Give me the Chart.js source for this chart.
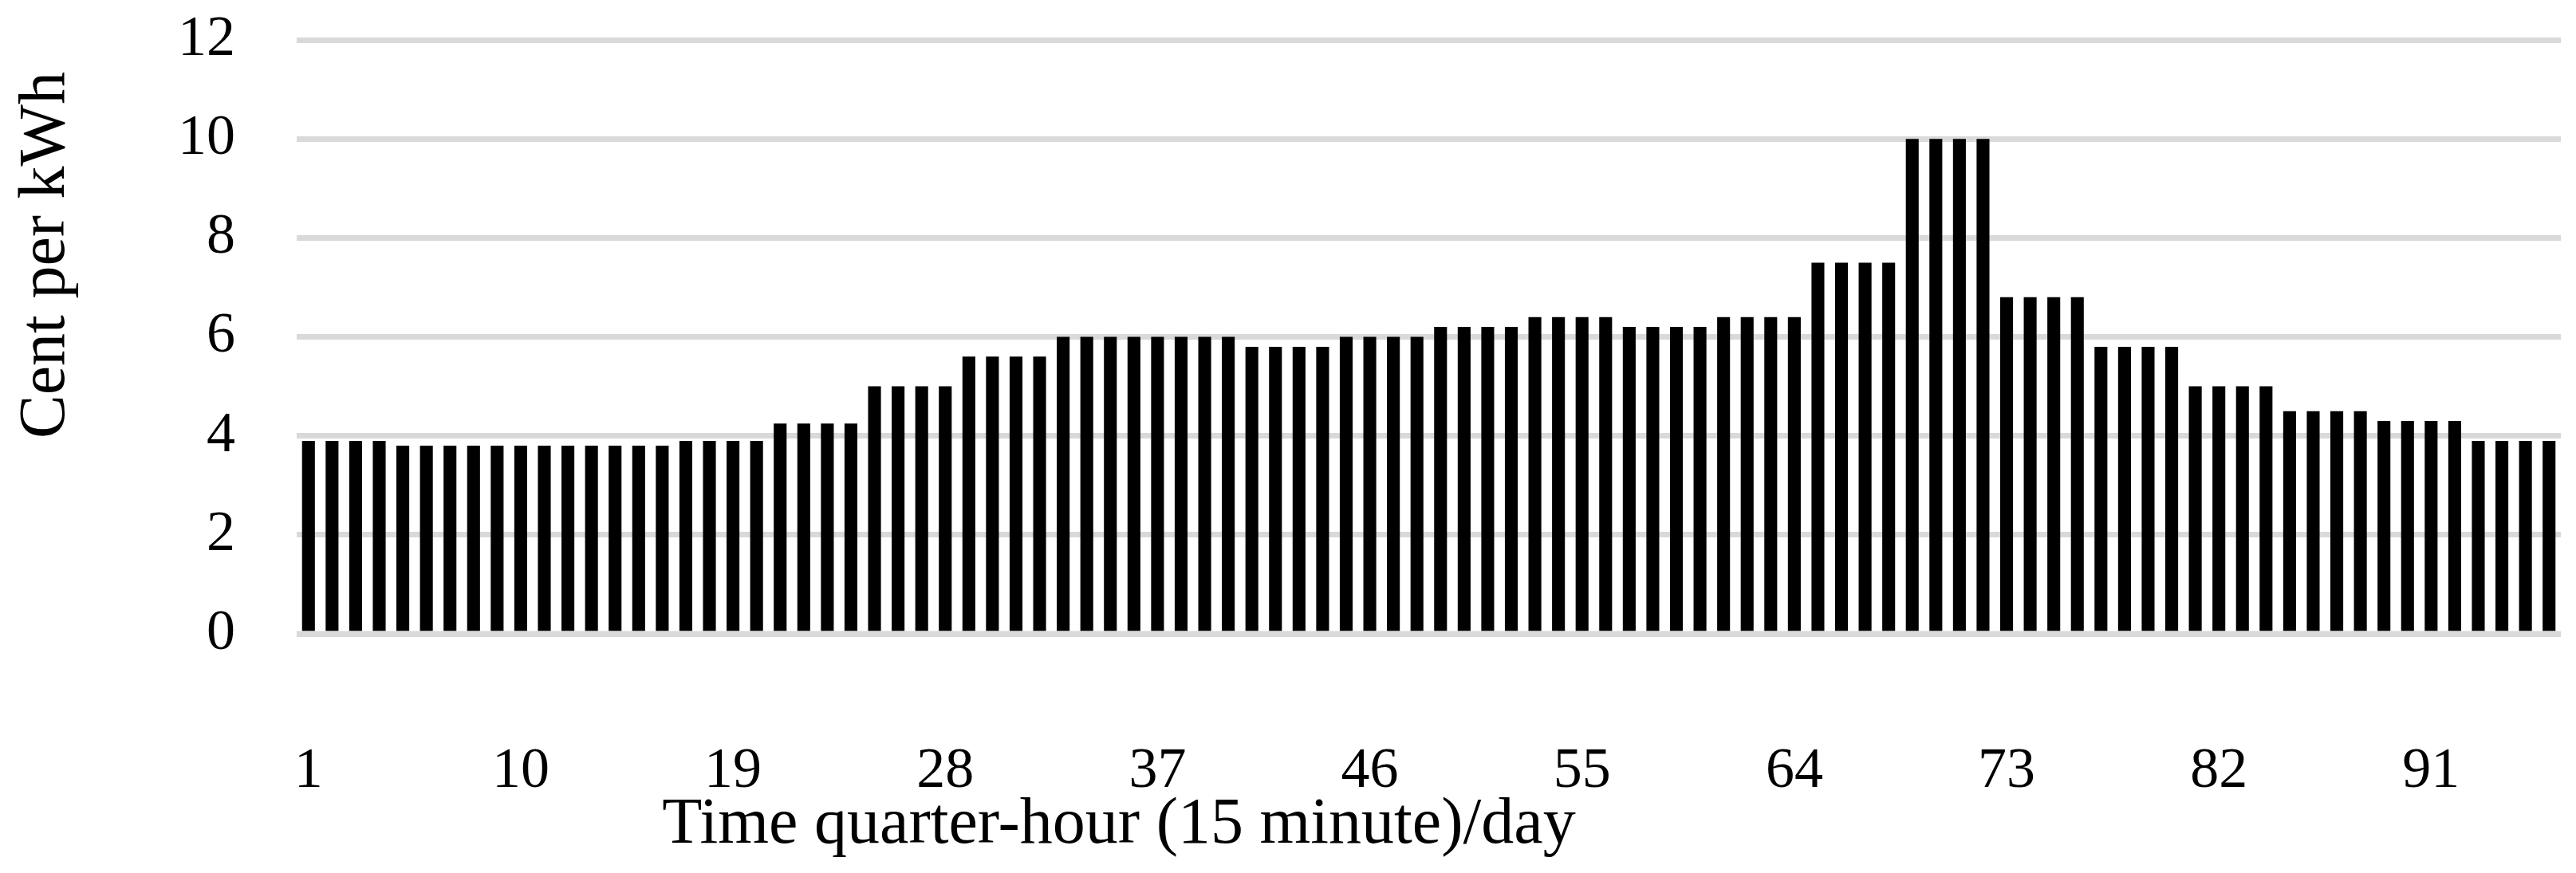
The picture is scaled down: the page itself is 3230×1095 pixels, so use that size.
<!DOCTYPE html>
<html>
<head>
<meta charset="utf-8">
<script src="https://cdn.jsdelivr.net/npm/chart.js@4.4.0/dist/chart.umd.min.js"></script>
<style>
html,body{margin:0;padding:0;background:#ffffff;}
canvas{display:block;}
</style>
</head>
<body>
<canvas id="c" width="3230" height="1095"></canvas>
<script>
// Categories: quarter-hour index of the day
const quarterHours = [
  1,2,3,4,5,6,7,8,9,10,11,12,13,14,15,16,17,18,19,20,21,22,23,24,
  25,26,27,28,29,30,31,32,33,34,35,36,37,38,39,40,41,42,43,44,45,46,47,48,
  49,50,51,52,53,54,55,56,57,58,59,60,61,62,63,64,65,66,67,68,69,70,71,72,
  73,74,75,76,77,78,79,80,81,82,83,84,85,86,87,88,89,90,91,92,93,94,95,96
];

// Price (cent per kWh) for each quarter-hour
const centPerKWh = [
  3.9,3.9,3.9,3.9,    3.8,3.8,3.8,3.8,    3.8,3.8,3.8,3.8,    3.8,3.8,3.8,3.8,
  3.9,3.9,3.9,3.9,    4.25,4.25,4.25,4.25, 5.0,5.0,5.0,5.0,   5.6,5.6,5.6,5.6,
  6.0,6.0,6.0,6.0,    6.0,6.0,6.0,6.0,    5.8,5.8,5.8,5.8,    6.0,6.0,6.0,6.0,
  6.2,6.2,6.2,6.2,    6.4,6.4,6.4,6.4,    6.2,6.2,6.2,6.2,    6.4,6.4,6.4,6.4,
  7.5,7.5,7.5,7.5,    10.0,10.0,10.0,10.0, 6.8,6.8,6.8,6.8,   5.8,5.8,5.8,5.8,
  5.0,5.0,5.0,5.0,    4.5,4.5,4.5,4.5,    4.3,4.3,4.3,4.3,    3.9,3.9,3.9,3.9
];

// Tick labels shown on the x axis
const xTickLabels = ['1','10','19','28','37','46','55','64','73','82','91'];
// Y axis tick values
const yTickValues = [0,2,4,6,8,10,12];

const yTitle = 'Cent per kWh';
const xTitle = 'Time quarter-hour (15 minute)/day';

const FONT = "'Liberation Serif', 'Times New Roman', serif";

const zeroLinePlugin = {
  id: 'zeroLine',
  afterDatasetsDraw(chart) {
    const ctx = chart.ctx;
    const y = chart.scales.y.getPixelForValue(0);
    ctx.save();
    ctx.strokeStyle = '#d9d9d9';
    ctx.lineWidth = 7;
    ctx.beginPath();
    ctx.moveTo(chart.chartArea.left, y);
    ctx.lineTo(chart.chartArea.right, y);
    ctx.stroke();
    ctx.restore();
  }
};

const axisTitlePlugin = {
  id: 'axisTitles',
  afterDraw(chart) {
    const ctx = chart.ctx;
    ctx.save();
    ctx.fillStyle = '#000000';
    ctx.font = "82px " + FONT;
    // y title, rotated
    ctx.save();
    ctx.translate(80, 320);
    ctx.rotate(-Math.PI / 2);
    ctx.textAlign = 'center';
    ctx.textBaseline = 'alphabetic';
    ctx.fillText(yTitle, 0, 0);
    ctx.restore();
    // x title
    ctx.textAlign = 'center';
    ctx.textBaseline = 'alphabetic';
    ctx.fillText(xTitle, 1403, 1057);
    ctx.restore();
  }
};

new Chart(document.getElementById('c'), {
  type: 'bar',
  data: {
    labels: quarterHours.map(String),
    datasets: [{
      data: centPerKWh,
      backgroundColor: '#000000',
      borderWidth: 0,
      barPercentage: 0.545,
      categoryPercentage: 1.0
    }]
  },
  options: {
    responsive: false,
    animation: false,
    devicePixelRatio: 1,
    layout: { padding: { top: 50, right: 19, left: 0, bottom: 0 } },
    plugins: {
      legend: { display: false },
      tooltip: { enabled: false },
      title: { display: false }
    },
    scales: {
      x: {
        offset: true,
        grid: { display: false, drawTicks: false },
        border: { display: false },
        afterFit(scale) {
          scale.height = 300;
          scale.paddingLeft = 0; scale.paddingRight = 0;
          scale.paddingTop = 0; scale.paddingBottom = 0;
        },
        ticks: {
          autoSkip: false,
          maxRotation: 0,
          minRotation: 0,
          padding: 130,
          color: '#000000',
          font: { family: FONT, size: 72 },
          callback(value, index) {
            const lbl = String(quarterHours[index]);
            return xTickLabels.includes(lbl) ? lbl : '';
          }
        }
      },
      y: {
        min: 0,
        max: 12,
        afterFit(scale) {
          scale.width = 372;
          scale.paddingLeft = 0; scale.paddingRight = 0;
          scale.paddingTop = 0; scale.paddingBottom = 0;
        },
        afterBuildTicks(scale) { scale.ticks = yTickValues.map(v => ({ value: v })); },
        grid: { color: '#d9d9d9', lineWidth: 7, drawTicks: false },
        border: { display: false },
        ticks: {
          stepSize: 2,
          padding: 77,
          color: '#000000',
          font: { family: FONT, size: 72 }
        }
      }
    }
  },
  plugins: [zeroLinePlugin, axisTitlePlugin]
});
</script>
</body>
</html>
